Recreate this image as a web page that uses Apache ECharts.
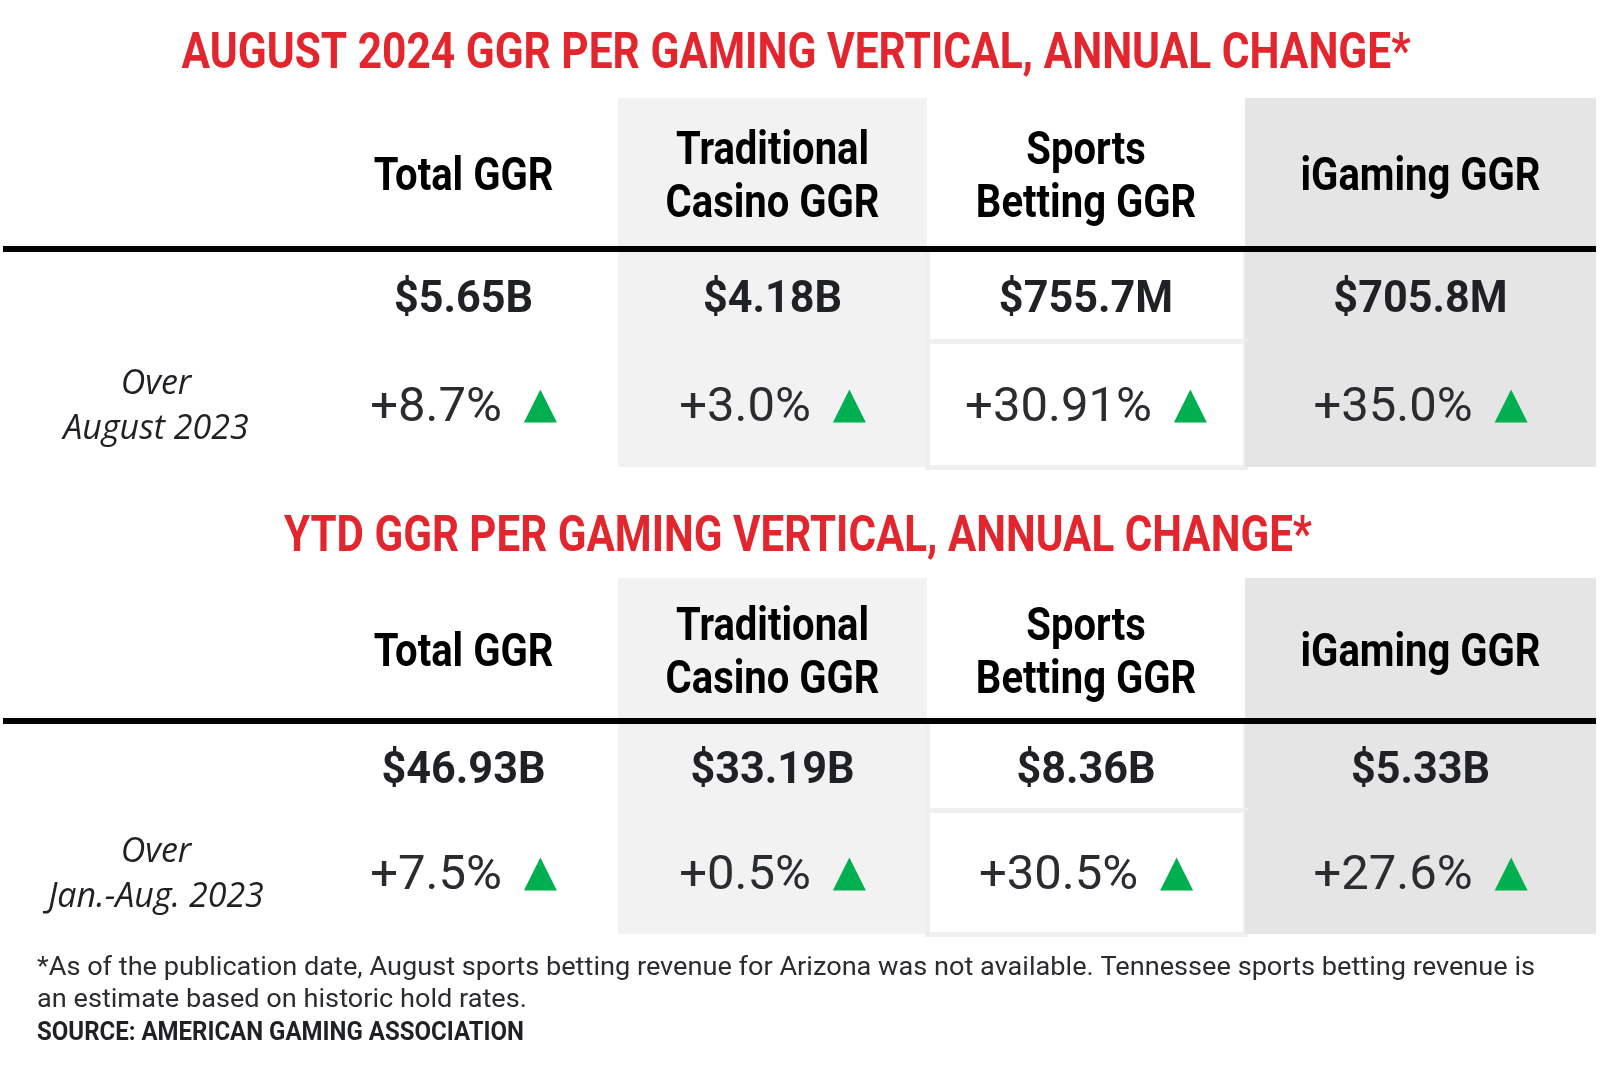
<!DOCTYPE html>
<html>
<head>
<meta charset="utf-8">
<title>GGR per gaming vertical</title>
<script src="https://cdn.jsdelivr.net/npm/echarts@6.0.0/dist/echarts.min.js"></script>
<style>
html, body { margin: 0; padding: 0; background: #fff; }
#main { width: 1604px; height: 1072px; }
</style>
</head>
<body>
<div id="main"></div>
<script>
// ---- data ----
var verticals = ['Total GGR', 'Traditional\nCasino GGR', 'Sports\nBetting GGR', 'iGaming GGR'];
var rowKeys = ['GGR', 'Annual change'];
var augustGGR = ['$5.65B', '$4.18B', '$755.7M', '$705.8M'];
var augustChange = ['+8.7%', '+3.0%', '+30.91%', '+35.0%'];
var ytdGGR = ['$46.93B', '$33.19B', '$8.36B', '$5.33B'];
var ytdChange = ['+7.5%', '+0.5%', '+30.5%', '+27.6%'];
var compareLabels = ['Over\nAugust 2023', 'Over\nJan.-Aug. 2023'];
var tableTitles = [
    'AUGUST 2024 GGR PER GAMING VERTICAL, ANNUAL CHANGE*',
    'YTD GGR PER GAMING VERTICAL, ANNUAL CHANGE*'
];
var footnoteLines = [
    '*As of the publication date, August sports betting revenue for Arizona was not available. Tennessee sports betting revenue is',
    'an estimate based on historic hold rates.'
];
var sourceText = 'SOURCE: AMERICAN GAMING ASSOCIATION';

// ---- look / layout ----
var RED = '#e3262e';
var GREEN = '#00b050';
var colWidths = [306, 309, 309, 318, 351];          // label column + 4 verticals
var colFill = ['#ffffff', '#ffffff', '#f2f2f2', '#ffffff', '#e5e5e5'];
var tables = [
    { box: { left: 3, top: 98, width: 1593, height: 369 }, headH: 151, rowH: [92, 126],
      values: augustGGR, changes: augustChange, compare: compareLabels[0] },
    { box: { left: 3, top: 578, width: 1593, height: 356 }, headH: 143, rowH: [89, 124],
      values: ytdGGR, changes: ytdChange, compare: compareLabels[1] }
];
var DY = 4;   // Roboto sits a little high when middle-aligned

var chart = echarts.init(document.getElementById('main'), null, { renderer: 'canvas' });

// text measuring, used to squeeze the condensed faces of the original
var measureCtx = document.createElement('canvas').getContext('2d');
function textWidth(str, font) {
    measureCtx.font = font;
    return measureCtx.measureText(str).width;
}

function cellStyle(col) {
    // sports column: white cells sitting on a light grey strip
    if (col === 3) {
        return { color: '#ffffff', borderColor: '#efefef', borderWidth: 5 };
    }
    return { color: colFill[col], borderColor: colFill[col], borderWidth: 0 };
}

function buildMatrix(t) {
    var xData = [{ value: '', size: colWidths[0], itemStyle: cellStyle(0) }];
    for (var i = 0; i < verticals.length; i++) {
        xData.push({
            value: verticals[i],
            size: colWidths[i + 1],
            itemStyle: { color: colFill[i + 1], borderWidth: 0 }
        });
    }
    var cells = [];
    for (var c = 0; c < colWidths.length; c++) {
        for (var r = 0; r < rowKeys.length; r++) {
            cells.push({ coord: [c, r], value: '', itemStyle: cellStyle(c) });
        }
    }
    return {
        left: t.box.left, top: t.box.top, width: t.box.width, height: t.box.height,
        backgroundStyle: { color: 'transparent', borderWidth: 0 },
        x: {
            show: true,
            levelSize: t.headH,
            data: xData,
            itemStyle: { borderWidth: 0 },
            label: { show: false, color: 'rgba(0,0,0,0)' },
            dividerLineStyle: { color: 'rgba(0,0,0,0)', width: 0 }
        },
        y: {
            show: false,
            data: [
                { value: rowKeys[0], size: t.rowH[0] },
                { value: rowKeys[1], size: t.rowH[1] }
            ],
            dividerLineStyle: { color: 'rgba(0,0,0,0)', width: 0 }
        },
        body: {
            itemStyle: { borderWidth: 0 },
            label: { show: false, color: 'rgba(0,0,0,0)' },
            data: cells
        }
    };
}

// one item per piece of text in a table, placed by the matrix coordinate system
function buildItems(t) {
    var items = [{ value: [0, 0], kind: 'rule' }];
    for (var i = 0; i < verticals.length; i++) {
        items.push({ value: [i + 1, 0], kind: 'head', text: verticals[i] });
        items.push({ value: [i + 1, 0], kind: 'value', text: t.values[i] });
        items.push({ value: [i + 1, 1], kind: 'change', text: t.changes[i] });
    }
    items.push({ value: [0, 1], kind: 'compare', text: t.compare });
    return items;
}

function makeRenderer(t, items) {
    var fullW = colWidths.reduce(function (a, b) { return a + b; }, 0);
    return function (params, api) {
        var it = items[params.dataIndex];
        var p = api.coord([api.value(0), api.value(1)]);
        if (it.kind === 'rule') {
            var yTop = p[1] - t.rowH[0] / 2;
            var x0 = p[0] - colWidths[0] / 2;
            return { type: 'rect', shape: { x: x0, y: yTop - 3, width: fullW, height: 6 },
                     style: { fill: '#000' }, z2: 10 };
        }
        if (it.kind === 'head') {
            return {
                type: 'text', x: p[0], y: p[1] - t.rowH[0] / 2 - t.headH / 2 + 1 + DY, scaleX: 0.87,
                style: { text: it.text, font: 'bold 46px Roboto', lineHeight: 53, fill: '#000',
                         align: 'center', verticalAlign: 'middle', textAlign: 'center', textVerticalAlign: 'middle' }
            };
        }
        if (it.kind === 'value') {
            return {
                type: 'text', x: p[0], y: p[1] + 2 + DY, scaleX: 0.96,
                style: { text: it.text, font: 'bold 45px Roboto', fill: '#1f2124',
                         align: 'center', verticalAlign: 'middle', textAlign: 'center', textVerticalAlign: 'middle' }
            };
        }
        if (it.kind === 'compare') {
            return {
                type: 'text', x: p[0], y: p[1] + 3,
                style: { text: it.text, font: 'italic 34px "Open Sans"', lineHeight: 45, fill: '#1f2124',
                         align: 'center', verticalAlign: 'middle', textAlign: 'center', textVerticalAlign: 'middle' }
            };
        }
        // change: percentage followed by a green up triangle, centred together
        var font = '49px Roboto';
        var tw = textWidth(it.text, font);
        var gap = 22, tri = 33;
        var left = p[0] - (tw + gap + tri) / 2;
        var cy = p[1] + 2;
        var tx = left + tw + gap;
        return {
            type: 'group',
            children: [
                { type: 'text', x: left, y: cy + DY - 1,
                  style: { text: it.text, font: font, fill: '#2a2c30',
                           align: 'left', verticalAlign: 'middle', textAlign: 'left', textVerticalAlign: 'middle' } },
                { type: 'polygon',
                  shape: { points: [[tx, cy + tri / 2], [tx + tri / 2, cy - tri / 2], [tx + tri, cy + tri / 2]] },
                  style: { fill: GREEN } }
            ]
        };
    };
}

// headings and notes, squeezed to the width of the condensed face in the original
function squeezedText(str, font, scale, x, y, align, color) {
    return {
        type: 'text', x: x, y: y, scaleX: scale,
        style: { text: str, font: font, fill: color, align: align, verticalAlign: 'middle',
                 textAlign: align, textVerticalAlign: 'middle' }
    };
}
function fitScale(str, font, width) {
    return width / textWidth(str, font);
}

var series = [];
var matrices = [];
tables.forEach(function (t, idx) {
    var items = buildItems(t);
    matrices.push(buildMatrix(t));
    series.push({
        type: 'custom',
        coordinateSystem: 'matrix',
        matrixIndex: idx,
        silent: true,
        z: 5,
        data: items.map(function (it) { return it.value; }),
        renderItem: makeRenderer(t, items)
    });
});

var TITLE_FONT = 'bold 50px Roboto';
var NOTE_FONT = '25px Roboto';
var noteScale = fitScale(footnoteLines[0], NOTE_FONT, 1498);

var option = {
    backgroundColor: '#ffffff',
    animation: false,
    graphic: [
        squeezedText(tableTitles[0], TITLE_FONT, fitScale(tableTitles[0], TITLE_FONT, 1229), 796, 51 + DY, 'center', RED),
        squeezedText(tableTitles[1], TITLE_FONT, fitScale(tableTitles[1], TITLE_FONT, 1028), 798, 535 + DY - 1, 'center', RED),
        squeezedText(footnoteLines[0], NOTE_FONT, noteScale, 37, 967 + 2, 'left', '#2a2c30'),
        squeezedText(footnoteLines[1], NOTE_FONT, noteScale, 37, 999 + 2, 'left', '#2a2c30'),
        squeezedText(sourceText, 'bold 25px Roboto', fitScale(sourceText, 'bold 25px Roboto', 487), 37, 1034, 'left', '#1f2124')
    ],
    matrix: matrices,
    series: series
};

chart.setOption(option);
</script>
</body>
</html>
